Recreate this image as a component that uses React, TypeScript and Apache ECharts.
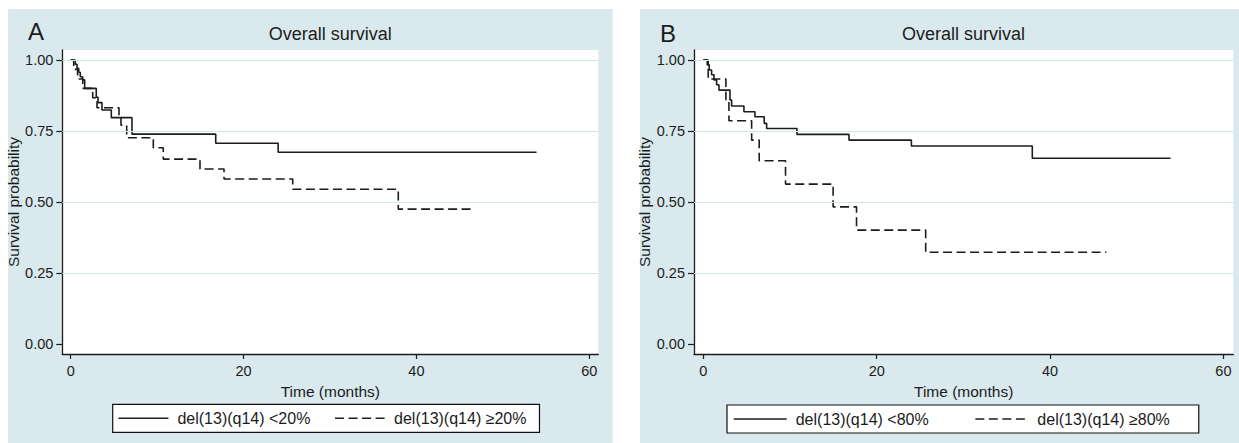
import React, { useEffect, useRef } from "react";
import * as echarts from "echarts";

// ---- Panel A data (months, survival probability) ----
const timesA_lt20 = [0, 0.53, 0.73, 0.93, 1.11, 1.39, 1.62, 2.96, 3.16, 3.62, 4.7, 7.09, 16.78, 24.0, 53.9];
const survA_lt20 = [1.0, 0.985, 0.971, 0.957, 0.941, 0.93, 0.9, 0.869, 0.85, 0.824, 0.797, 0.739, 0.707, 0.675, 0.675];
const timesA_ge20 = [0, 0.35, 0.8, 1.4, 2.55, 3.04, 5.59, 5.82, 6.48, 9.56, 10.71, 14.96, 17.74, 25.69, 37.9, 46.4];
const survA_ge20 = [1.0, 0.967, 0.933, 0.9, 0.867, 0.832, 0.8, 0.77, 0.726, 0.691, 0.651, 0.616, 0.581, 0.545, 0.475, 0.475];

// ---- Panel B data ----
const timesB_lt80 = [0, 0.45, 0.68, 0.95, 1.22, 1.53, 1.8, 3.07, 3.26, 4.68, 5.95, 7.02, 7.3, 10.8, 16.8, 24.0, 37.95, 53.9];
const survB_lt80 = [1.0, 0.983, 0.965, 0.948, 0.93, 0.913, 0.894, 0.859, 0.838, 0.818, 0.8, 0.777, 0.759, 0.738, 0.718, 0.697, 0.654, 0.654];
const timesB_ge80 = [0, 0.56, 2.6, 2.95, 5.57, 6.44, 9.48, 14.97, 17.67, 25.65, 46.5];
const survB_ge80 = [1.0, 0.933, 0.86, 0.786, 0.718, 0.645, 0.563, 0.483, 0.401, 0.323, 0.323];

// ---- Labels / ticks ----
const panelLetters = ["A", "B"];
const panelTitle = "Overall survival";
const xTicks = [0, 20, 40, 60];
const yTicks = [0, 0.25, 0.5, 0.75, 1];
const yGridValues = [0.25, 0.5, 0.75, 1];
const xAxisTitle = "Time (months)";
const yAxisTitle = "Survival probability";
const namesA = ["del(13)(q14) <20%", "del(13)(q14) \u226520%"];
const namesB = ["del(13)(q14) <80%", "del(13)(q14) \u226580%"];

const bg = "#d9e9ed";
const gridLineColor = "#d2e6ec";
const ink = "#1c1c1c";
const font = "'Liberation Sans', Arial, Helvetica, sans-serif";

const zip = (t: number[], s: number[]) => t.map((v, i) => [v, s[i]]);

function axesFor(gridIndex: number, xmin: number, xmax: number) {
  const xAxis = {
    type: "value",
    gridIndex,
    min: xmin,
    max: xmax,
    axisLine: { show: true, onZero: false, lineStyle: { color: ink, width: 1.3 } },
    axisTick: { show: true, customValues: xTicks, length: 5, lineStyle: { color: ink, width: 1.2 } },
    axisLabel: { customValues: xTicks, margin: 9.5, fontSize: 14.5, color: ink, fontFamily: font },
    splitLine: { show: false },
    name: xAxisTitle,
    nameLocation: "middle",
    nameGap: 24,
    nameTextStyle: { fontSize: 15.5, color: ink, fontFamily: font },
  };
  const yAxis = {
    type: "value",
    gridIndex,
    min: -0.0352,
    max: 1.0352,
    axisLine: { show: true, onZero: false, lineStyle: { color: ink, width: 1.3 } },
    axisTick: { show: true, customValues: yTicks, length: 6, lineStyle: { color: ink, width: 1.2 } },
    axisLabel: {
      customValues: yTicks,
      margin: 9,
      fontSize: 14.5,
      color: ink,
      fontFamily: font,
      formatter: (v: number) => v.toFixed(2),
    },
    splitLine: { show: false },
    name: yAxisTitle,
    nameLocation: "middle",
    nameGap: 36,
    nameTextStyle: { fontSize: 15.5, color: ink, fontFamily: font },
  };
  return { xAxis, yAxis };
}

function gridSeries(idx: number) {
  return {
    type: "line",
    xAxisIndex: idx,
    yAxisIndex: idx,
    data: [],
    silent: true,
    z: 1,
    markLine: {
      silent: true,
      symbol: ["none", "none"],
      label: { show: false },
      lineStyle: { color: gridLineColor, width: 1, type: "solid" },
      emphasis: { disabled: true },
      data: yGridValues.map((v) => ({ yAxis: v })),
    },
  };
}

function curve(idx: number, name: string, t: number[], s: number[], dashed: boolean) {
  return {
    type: "line",
    name,
    xAxisIndex: idx,
    yAxisIndex: idx,
    step: "end",
    symbol: "none",
    showSymbol: false,
    z: 3,
    data: zip(t, s),
    itemStyle: { color: ink },
    lineStyle: { color: ink, width: 1.6, type: dashed ? [9, 4.5] : "solid" },
    emphasis: { disabled: true },
  };
}

export default function App() {
  const ref = useRef<HTMLDivElement>(null);
  useEffect(() => {
    if (!ref.current) return;
    const chart = echarts.init(ref.current, undefined, { renderer: "svg" });
    const a = axesFor(0, -0.97, 61.04);
    const b = axesFor(1, -1.08, 61.14);
    const legendCommon = {
      orient: "horizontal",
      itemHeight: 14,
      padding: [6, 13, 6, 5],
      borderColor: "#111",
      borderWidth: 1.2,
      backgroundColor: "#fff",
      selectedMode: false,
      itemStyle: { opacity: 0 },
      lineStyle: { width: 1.4 },
      textStyle: { fontSize: 16, color: ink, fontFamily: font, lineHeight: 16, padding: [0, 0, 0, 4] },
    };
    chart.setOption({
      animation: false,
      grid: [
        { left: 62.3, top: 50, width: 536, height: 304, show: true, backgroundColor: "#fff", borderWidth: 0 },
        { left: 694, top: 50, width: 539.3, height: 304, show: true, backgroundColor: "#fff", borderWidth: 0 },
      ],
      xAxis: [a.xAxis, b.xAxis],
      yAxis: [a.yAxis, b.yAxis],
      legend: [
        { ...legendCommon, data: namesA, left: 112.7, top: 404.3, itemWidth: 50, itemGap: 24 },
        { ...legendCommon, data: namesB, left: 727, top: 405, itemWidth: 53, itemGap: 46, padding: [6, 29, 6, 6] },
      ],
      series: [
        gridSeries(0),
        gridSeries(1),
        curve(0, namesA[0], timesA_lt20, survA_lt20, false),
        curve(0, namesA[1], timesA_ge20, survA_ge20, true),
        curve(1, namesB[0], timesB_lt80, survB_lt80, false),
        curve(1, namesB[1], timesB_ge80, survB_ge80, true),
      ],
      graphic: [
        { type: "rect", z: -10, silent: true, shape: { x: 8, y: 9, width: 604.7, height: 434 }, style: { fill: bg } },
        { type: "rect", z: -10, silent: true, shape: { x: 640, y: 9, width: 600, height: 434 }, style: { fill: bg } },
        {
          type: "text", x: 28, y: 31, z: 5,
          style: { text: panelLetters[0], fontSize: 24, fill: ink, fontFamily: font, verticalAlign: "middle", align: "left" },
        },
        {
          type: "text", x: 660, y: 33, z: 5,
          style: { text: panelLetters[1], fontSize: 24, fill: ink, fontFamily: font, verticalAlign: "middle", align: "left" },
        },
        {
          type: "text", x: 330.3, y: 33.8, z: 5,
          style: { text: panelTitle, fontSize: 18, fill: ink, fontFamily: font, verticalAlign: "middle", align: "center" },
        },
        {
          type: "text", x: 963.6, y: 33.8, z: 5,
          style: { text: panelTitle, fontSize: 18, fill: ink, fontFamily: font, verticalAlign: "middle", align: "center" },
        },
      ],
    });
    return () => chart.dispose();
  }, []);
  return (
    <div
      ref={ref}
      style={{ position: "fixed", left: 0, top: 0, width: 1239, height: 443, background: "#fff" }}
    />
  );
}
